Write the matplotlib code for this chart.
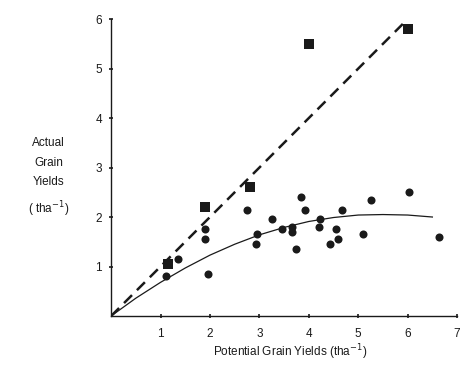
import numpy as np
import matplotlib.pyplot as plt

# squares: plots near potential
sq_x = [1.15, 1.9, 2.8, 4.0, 6.0]
sq_y = [1.05, 2.2, 2.6, 5.5, 5.8]

# circles: farmers' fields
ci_x = [1.1, 1.35, 1.9, 1.9, 1.95, 2.75, 2.95, 2.93, 3.25, 3.45, 3.65, 3.65, 3.75,
        3.85, 3.92, 4.22, 4.2, 4.42, 4.55, 4.6, 4.68, 5.1, 5.25, 6.02, 6.63]
ci_y = [0.8, 1.15, 1.75, 1.55, 0.85, 2.15, 1.65, 1.45, 1.95, 1.75, 1.8, 1.7, 1.35,
        2.4, 2.15, 1.95, 1.8, 1.45, 1.75, 1.55, 2.15, 1.65, 2.35, 2.5, 1.6]

# fitted curve
cur_x = [0, 0.5, 1, 1.5, 2, 2.5, 3, 3.5, 4, 4.5, 5, 5.5, 6, 6.5]
cur_y = [0, 0.36, 0.68, 0.97, 1.23, 1.45, 1.64, 1.79, 1.91, 1.99, 2.04, 2.05, 2.04, 2.0]

# 1:1 line
line_x = [0, 5.95]
line_y = [0, 5.95]

plt.rcParams['font.family'] = ['Liberation Sans', 'DejaVu Sans']
col = '#1a1a1a'

fig = plt.figure(figsize=(4.65, 3.67), dpi=100)
ax = fig.add_axes([0.239, 0.139, 0.744, 0.809])

ax.plot(line_x, line_y, '--', color=col, lw=1.8, dashes=(4.5, 2.8))
ax.plot(cur_x, cur_y, '-', color=col, lw=0.9)
ax.plot(ci_x, ci_y, 'o', color=col, ms=5.8, mew=0)
ax.plot(sq_x, sq_y, 's', color=col, ms=6.8, mew=0)

ax.set_xlim(0, 7)
ax.set_ylim(0, 6)
ax.set_xticks([1, 2, 3, 4, 5, 6, 7])
ax.set_yticks([1, 2, 3, 4, 5, 6])
ax.spines['top'].set_visible(False)
ax.spines['right'].set_visible(False)
for s in ['left', 'bottom']:
    ax.spines[s].set_color(col)
    ax.spines[s].set_linewidth(1.0)
ax.tick_params(colors=col, labelsize=8.5, length=3, width=1.2, direction='inout')
ax.tick_params(axis='x', pad=7)
ax.tick_params(axis='y', pad=5)

fig.text(0.105, 0.515, 'Actual\nGrain\nYields\n( tha$^{-1}$)', ha='center', va='center',
         fontsize=8.5, color=col, linespacing=1.8)
fig.text(0.625, 0.04, 'Potential Grain Yields (tha$^{-1}$)', ha='center', va='center',
         fontsize=8.5, color=col)

plt.savefig('out.png', dpi=100)
